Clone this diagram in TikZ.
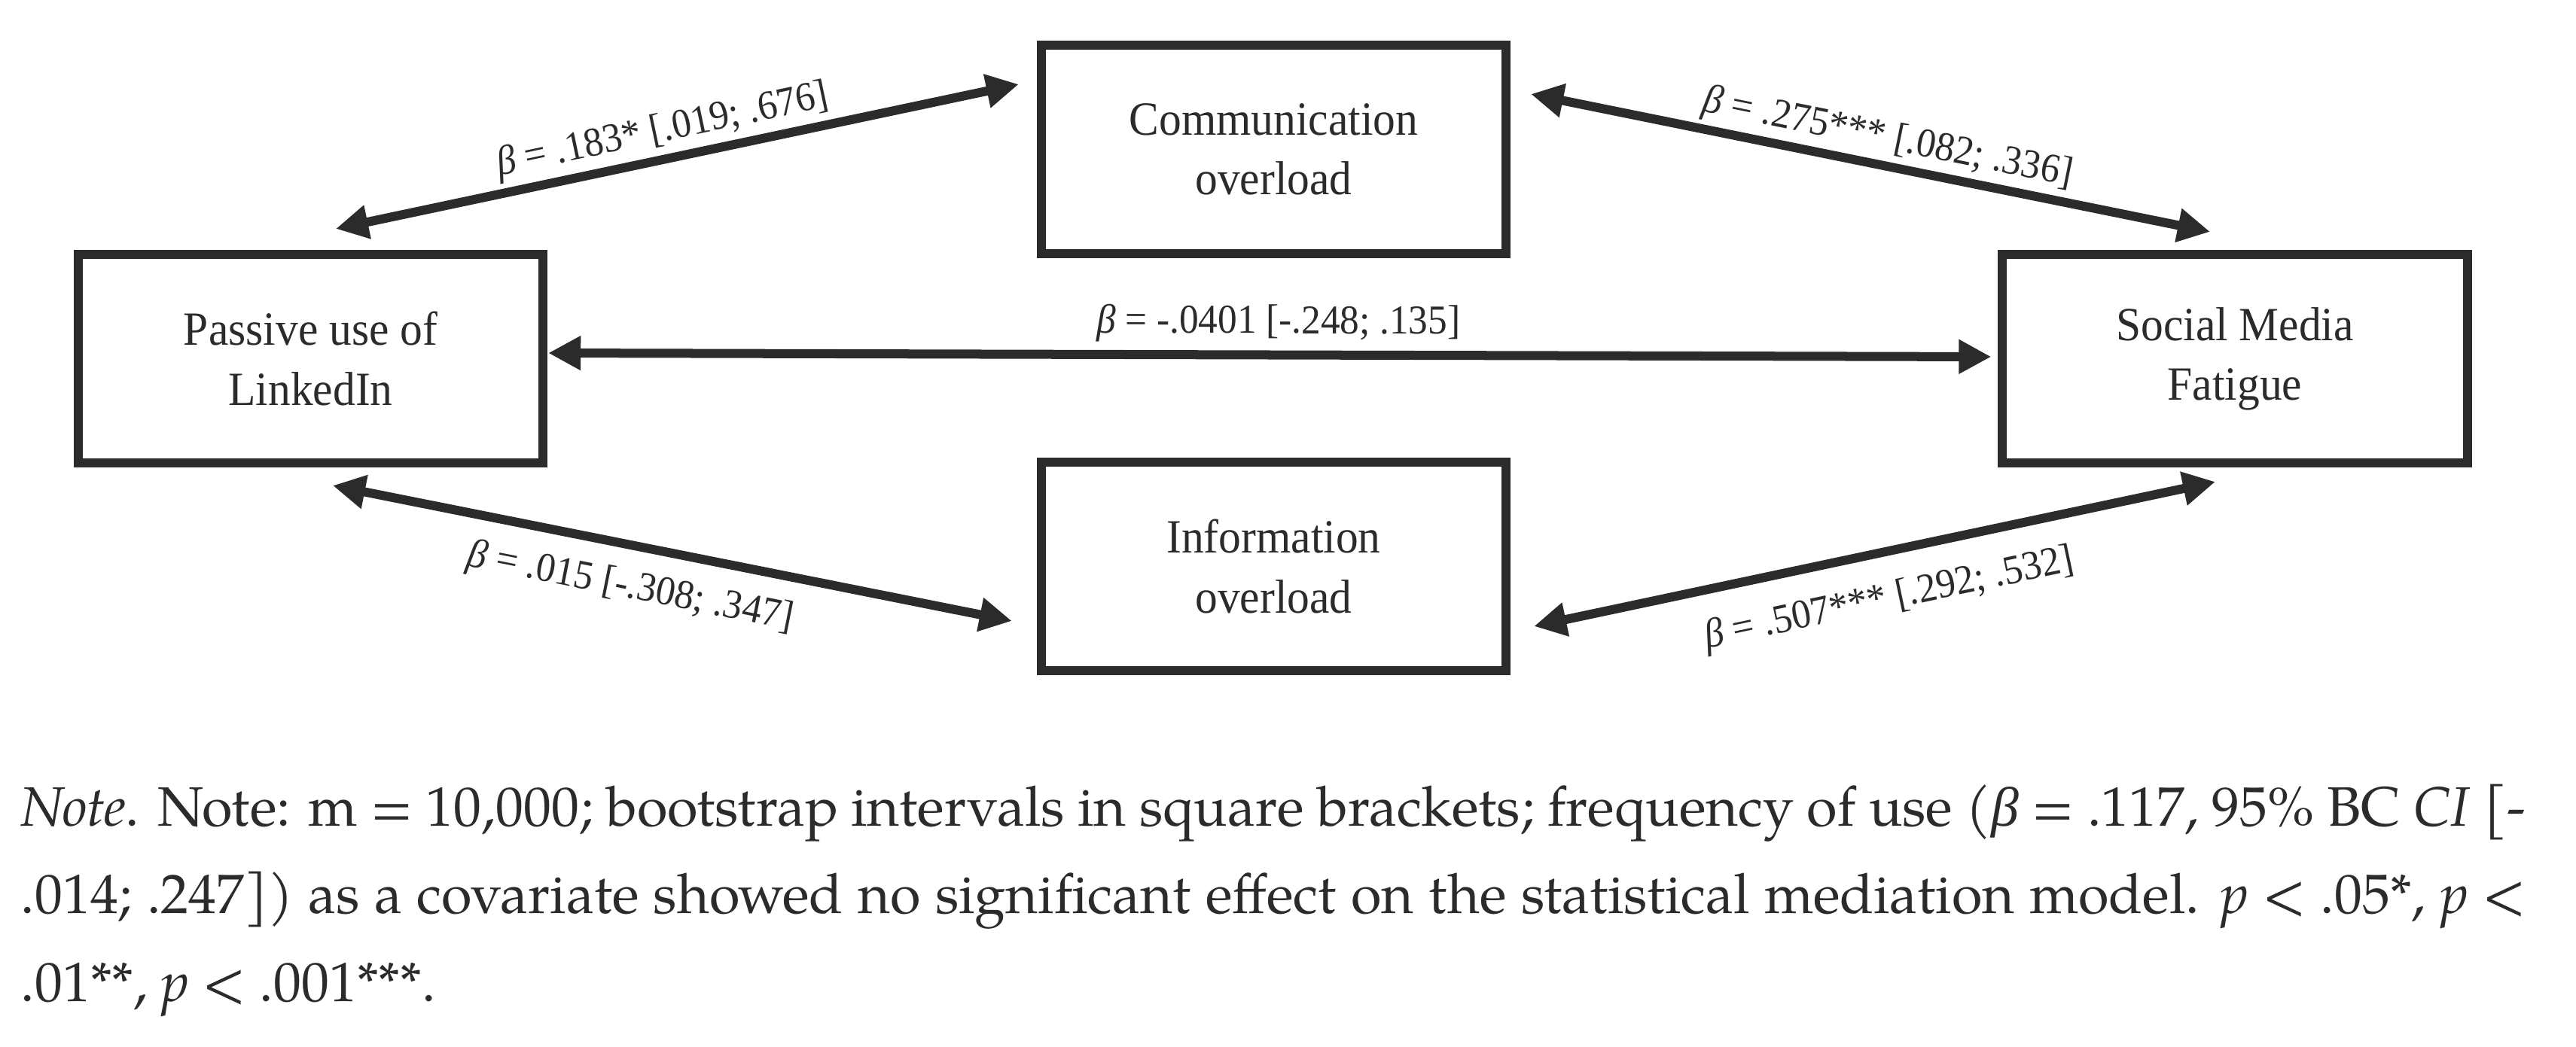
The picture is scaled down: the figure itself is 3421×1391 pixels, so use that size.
\documentclass[tikz,border=0pt]{standalone}
\usepackage{fontspec}
\setmainfont{TeX Gyre Pagella}
\newfontfamily\boxfont{Liberation Serif}[FakeStretch=0.94]
\newfontfamily\gk{Liberation Serif}
\usetikzlibrary{arrows.meta,calc}
\definecolor{ink}{RGB}{43,43,43}
\begin{document}
\begin{tikzpicture}[x=0.01cm,y=-0.01cm,
  varbox/.style={draw=ink, line width=0.12cm, minimum width=6.17cm, minimum height=2.77cm,
    align=center, inner sep=0pt, text=ink, font=\boxfont\fontsize{18}{22.5}\selectfont},
  link/.style={draw=ink, line width=0.12cm,
    {Triangle[length=0.43cm,width=0.43cm]}-{Triangle[length=0.43cm,width=0.43cm]}},
  lbl/.style={sloped, inner sep=0pt, text=ink, font=\boxfont\fontsize{15.5}{18}\selectfont},
  note/.style={inner sep=0pt, text=ink, font=\fontsize{21}{33}\selectfont}]
\useasboundingbox[fill=white] (0,0) rectangle (3421,1391);

\node[varbox] (pas) at (412.5,476.5) {Passive use of\\LinkedIn};
\node[varbox] (com) at (1691.5,198.5) {Communication\\overload};
\node[varbox] (soc) at (2968,476.5) {Social Media\\Fatigue};
\node[varbox] (inf) at (1691.5,752.5) {Information\\overload};

\coordinate (pcA) at ($(pas.north)+(33.5,-28)$);
\coordinate (pcB) at ($(com.west)+(-24,-86.5)$);
\coordinate (csA) at ($(com.east)+(27,-73.5)$);
\coordinate (csB) at ($(soc.north)+(-33,-24)$);
\coordinate (psA) at ($(pas.east)+(1,-7.5)$);
\coordinate (psB) at ($(soc.west)+(-9,-2.5)$);
\coordinate (piA) at ($(pas.south)+(29.5,24)$);
\coordinate (piB) at ($(inf.west)+(-33,72.5)$);
\coordinate (isA) at ($(inf.east)+(31,79.5)$);
\coordinate (isB) at ($(soc.south)+(-26,19)$);

\draw[link] (pcA) -- node[lbl, pos=0.487, above=0.06cm] (l1) {\textit{β} = .183* [.019; .676]} (pcB);
\draw[link] (csA) -- node[lbl, pos=0.517, above=0.05cm] (l2) {\textit{β} = .275*** [.082; .336]} (csB);
\draw[link] (psA) -- node[lbl, pos=0.506, above=0.11cm] (l3) {\textit{β} = -.0401 [-.248; .135]} (psB);
\draw[link] (piA) -- node[lbl, pos=0.45, below=0.25cm] (l4) {\textit{β} = .015 [-.308; .347]} (piB);
\draw[link] (isA) -- node[lbl, pos=0.507, below=0.32cm] (l5) {\textit{β} = .507*** [.292; .532]} (isB);

\node[note, anchor=base west] (n1) at (27,1097) {\makebox[946pt][s]{\textit{Note}. Note: m = 10,000; bootstrap intervals in square brackets; frequency of use ({\gk\itshape β} = .117, 95\% BC \textit{CI} [-}};
\node[note, anchor=base west] (n2) at (27,1213) {\makebox[946pt][s]{.014; .247]) as a covariate showed no significant effect on the statistical mediation model. \textit{p} < .05*, \textit{p} <}};
\node[note, anchor=base west] (n3) at (27,1330) {.01**, \textit{p} < .001***.};
\end{tikzpicture}
\end{document}
